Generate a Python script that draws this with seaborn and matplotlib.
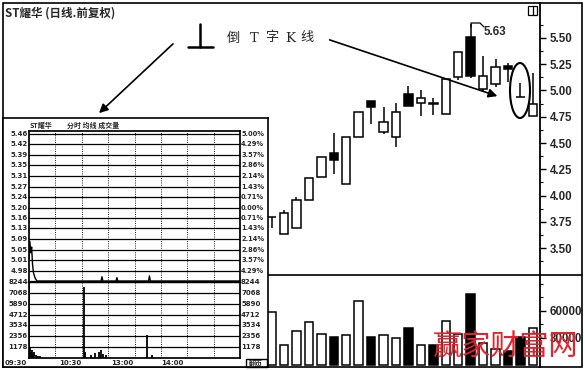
import matplotlib
matplotlib.use("Agg")
import matplotlib.pyplot as plt
import seaborn as sns
import pandas as pd
from matplotlib.patches import Rectangle, Ellipse, FancyArrowPatch
from matplotlib.lines import Line2D

sns.set_theme(style="white")
plt.rcParams['font.family'] = ['DejaVu Sans', 'Noto Sans CJK SC']

# ---------------- daily K-line data ----------------
day_index = list(range(22))
opens  = [3.80, 3.633, 3.69, 3.957, 4.176, 4.405, 4.11, 4.557, 4.90, 4.605, 4.557,
          4.967, 4.88, 4.88, 4.776, 5.128, 5.51, 5.014, 5.062, 5.233, 4.938, 4.757]
closes = [3.80, 3.833, 3.957, 4.167, 4.367, 4.338, 4.557, 4.795, 4.843, 4.70, 4.795,
          4.852, 4.93, 4.87, 5.11, 5.367, 5.138, 5.138, 5.224, 5.205, 4.938, 4.867]
highs  = [3.80, 3.862, 3.986, 4.167, 4.367, 4.595, 4.557, 4.795, 4.90, 4.843, 4.88,
          5.043, 5.005, 4.93, 5.11, 5.367, 5.63, 5.33, 5.30, 5.262, 5.071, 5.167]
lows   = [3.69, 3.633, 3.69, 3.957, 4.176, 4.205, 4.11, 4.557, 4.68, 4.586, 4.462,
          4.852, 4.757, 4.767, 4.776, 5.10, 5.12, 4.986, 5.033, 5.08, 4.938, 4.757]
direction = ['up', 'up', 'up', 'up', 'up', 'down', 'up', 'up', 'down', 'up', 'up',
             'down', 'up', 'down', 'up', 'up', 'down', 'up', 'up', 'down', 'down', 'up']
volumes = [58800, 22200, 37700, 47700, 34400, 31100, 33300, 71000, 31100, 33300, 30000,
           41100, 22200, 22200, 48800, 34400, 78800, 24400, 17800, 15500, 31100, 41100]

price_ticks = [3.50, 3.75, 4.00, 4.25, 4.50, 4.75, 5.00, 5.25, 5.50]
price_minor = [3.375, 3.625, 3.875, 4.125, 4.375, 4.625, 4.875, 5.125, 5.375, 5.625]
volume_ticks = [30000, 60000]
volume_minor = [15000, 45000, 75000, 90000]
peak_label = "5.63"

# ---------------- intraday (inset) data ----------------
intraday_minutes = [0, 1, 2, 3, 4, 5, 7, 9, 82, 83, 84, 99, 100, 101, 136, 137, 138, 240]
intraday_prices  = [5.02, 5.08, 5.04, 5.06, 5.00, 4.97, 4.95, 4.94, 4.94, 4.955, 4.94,
                    4.94, 4.952, 4.94, 4.94, 4.958, 4.94, 4.94]
intraday_vol_minutes = [0, 1, 2, 3, 5, 6, 8, 10, 12, 63, 64, 70, 75, 80, 82, 84, 88, 134, 140]
intraday_volumes     = [8244, 1200, 600, 900, 400, 700, 300, 250, 200, 7700, 600, 300, 500,
                        700, 900, 400, 300, 2500, 300]
intraday_levels = [5.46, 5.423, 5.386, 5.349, 5.311, 5.274, 5.237, 5.200, 5.163, 5.126,
                   5.089, 5.051, 5.014, 4.977]
intraday_left_labels = ["5.46", "5.42", "5.39", "5.35", "5.31", "5.27", "5.24", "5.20",
                        "5.16", "5.13", "5.09", "5.05", "5.01", "4.98"]
intraday_right_labels = ["5.00%", "4.29%", "3.57%", "2.86%", "2.14%", "1.43%", "0.71%",
                         "0.00%", "0.71%", "1.43%", "2.14%", "2.86%", "3.57%", "4.29%"]
intraday_vol_levels = [1178, 2356, 3534, 4712, 5890, 7068, 8244]
intraday_vol_labels = ["1178", "2356", "3534", "4712", "5890", "7068", "8244"]
time_labels = ["09:30", "10:30", "13:00", "14:00"]

# ---------------- figure ----------------
W, H = 585, 370
fig = plt.figure(figsize=(W / 100, H / 100), dpi=100)
fig.patch.set_facecolor('white')


def pax(x0, y0, x1, y1, z=0):
    return fig.add_axes([x0 / W, 1 - y1 / H, (x1 - x0) / W, (y1 - y0) / H], zorder=z)


def F(x, y):
    return (x / W, 1 - y / H)


CJK = ['Noto Sans CJK SC', 'DejaVu Sans']
NUM = ['Liberation Sans', 'DejaVu Sans']

df = pd.DataFrame(dict(day=day_index, open=opens, close=closes, high=highs, low=lows,
                       dir=direction, volume=volumes))
X0, X1 = -21.57, 21.57

ax = pax(3, 3, 540, 275)
axv = pax(3, 275, 540, 367)

body_lo = df[['open', 'close']].min(axis=1)
body_hi = df[['open', 'close']].max(axis=1)
fc = df['dir'].map({'up': 'white', 'down': 'black'})
ax.vlines(df['day'], df['low'], df['high'], color='black', lw=1.1, zorder=2)
ax.bar(df['day'], body_hi - body_lo, bottom=body_lo, width=0.68, color=fc,
       edgecolor='black', linewidth=1.1, zorder=3)
ax.set_ylim(3.2429, 5.8333)
ax.set_yticks(price_ticks)
ax.set_yticklabels([f"{v:.2f}" for v in price_ticks])
ax.set_yticks(price_minor, minor=True)

sns.barplot(data=df, x='day', y='volume', hue='dir', palette={'up': 'white', 'down': 'black'},
            edgecolor='black', linewidth=1.1, width=0.68, dodge=False, legend=False,
            errorbar=None, native_scale=True, ax=axv)
axv.set_ylim(-2220, 99900)
axv.set_yticks(volume_ticks)
axv.set_yticklabels([str(v) for v in volume_ticks])
axv.set_yticks(volume_minor, minor=True)

for a in (ax, axv):
    a.set_xlim(X0, X1)
    a.set_xticks([])
    a.set_xlabel('')
    a.set_ylabel('')
    for s in ['left', 'top', 'bottom']:
        a.spines[s].set_visible(False)
    a.spines['right'].set_color('black')
    a.spines['right'].set_linewidth(1.3)
    a.yaxis.tick_right()
    a.tick_params(axis='y', which='major', direction='out', right=True, left=False,
                  length=4, width=1, color='black', pad=3, labelsize=8.3)
    a.tick_params(axis='y', which='minor', direction='out', right=True, left=False,
                  length=2, width=0.8, color='black')
    a.patch.set_alpha(0)
    for lab in a.get_yticklabels():
        lab.set_fontweight('bold')
        lab.set_family(NUM)

# outer frame and divider
fig.add_artist(Rectangle(F(3, 367), 579 / W, 364 / H, transform=fig.transFigure,
                         fill=False, ec='black', lw=1.2, zorder=3))
fig.add_artist(Line2D([3 / W, 582 / W], [1 - 275 / H] * 2, transform=fig.transFigure,
                      color='black', lw=1.2, zorder=3))

# title
fig.text(*F(5, 13), "ST耀华 (日线.前复权)", family=CJK, fontweight='bold', fontsize=8.3,
         va='center', ha='left', zorder=8)

# icon top right
fig.add_artist(Rectangle(F(528, 15), 9 / W, 9 / H, transform=fig.transFigure,
                         fill=False, ec='black', lw=0.9, zorder=8))
fig.add_artist(Line2D([532.5 / W] * 2, [1 - 6 / H, 1 - 15 / H], transform=fig.transFigure,
                      color='black', lw=0.9, zorder=8))

# inverted T symbol + label
fig.add_artist(Line2D([200 / W] * 2, [1 - 24 / H, 1 - 47 / H], transform=fig.transFigure,
                      color='black', lw=1.8, zorder=8))
fig.add_artist(Line2D([188 / W, 213 / W], [1 - 47 / H] * 2, transform=fig.transFigure,
                      color='black', lw=1.8, zorder=8))
for ch, xc in zip(["倒", "T", "字", "K", "线"], [233, 254, 272, 290, 307]):
    fam = ['DejaVu Serif'] if ch in "TK" else CJK
    fig.text(*F(xc, 38), ch, family=fam, fontsize=9.5, ha='center', va='center', zorder=8)

# arrows
for (xa, ya), (xb, yb) in [((175, 42), (97, 115)), ((327, 39), (500, 97))]:
    fig.add_artist(FancyArrowPatch(F(xa, ya), F(xb, yb), transform=fig.transFigure,
                                   arrowstyle='-|>', mutation_scale=13, lw=1.2,
                                   color='black', zorder=8))

# peak marker
fig.add_artist(Line2D([471 / W, 471 / W, 480 / W, 484 / W],
                      [1 - 27 / H, 1 - 23 / H, 1 - 23 / H, 1 - 27 / H],
                      transform=fig.transFigure, color='black', lw=0.9, zorder=8))
fig.text(*F(484, 32), peak_label, family=NUM, fontweight='bold', fontsize=8.3,
         ha='left', va='center', zorder=8)

# ellipse around inverted T candle
fig.add_artist(Ellipse(F(520, 90.5), 20 / W, 55 / H, transform=fig.transFigure,
                       fill=False, ec='black', lw=1.5, zorder=8))

# ---------------- inset ----------------
frame = pax(3, 118, 268, 367, z=5)
frame.set_xticks([]); frame.set_yticks([])
frame.set_facecolor('white')
for s in frame.spines.values():
    s.set_color('black'); s.set_linewidth(1.2)

fig.text(*F(30, 125.5), "ST耀华", family=CJK, fontweight='bold', fontsize=5, ha='left',
         va='center', zorder=9)
fig.text(*F(67, 125.5), "分时 均线 成交量", family=CJK, fontweight='bold', fontsize=5,
         ha='left', va='center', zorder=9)

axp = pax(29, 131, 240, 282, z=6)
axp.set_xlim(0, 240)
axp.set_ylim(4.9365, 5.4706)
for lvl in intraday_levels:
    axp.axhline(lvl, color='black', lw=0.9, zorder=1)
for m in [30, 60, 90, 120, 150, 180, 210]:
    axp.axvline(m, color='black', lw=0.6, ls=(0, (1.2, 1.5)), zorder=1)
sns.lineplot(x=intraday_minutes, y=intraday_prices, ax=axp, color='black', lw=1.0,
             zorder=4, estimator=None, sort=False)
axp.set_xticks([]); axp.set_yticks([])
axp.set_xlabel(''); axp.set_ylabel('')
for lvl, ll, rl in zip(intraday_levels, intraday_left_labels, intraday_right_labels):
    axp.text(-0.005, lvl, ll, transform=axp.get_yaxis_transform(), ha='right', va='center',
             fontsize=5, fontweight='bold', family=['DejaVu Sans'])
    axp.text(1.005, lvl, rl, transform=axp.get_yaxis_transform(), ha='left', va='center',
             fontsize=4.8, fontweight='bold', family=['DejaVu Sans'])

axq = pax(29, 282, 240, 358, z=6)
axq.set_xlim(0, 240)
axq.set_ylim(0, 8244)
for lvl in intraday_vol_levels:
    axq.axhline(lvl, color='black', lw=0.9, zorder=1)
for m in [30, 60, 90, 120, 150, 180, 210]:
    axq.axvline(m, color='black', lw=0.6, ls=(0, (1.2, 1.5)), zorder=1)
axq.vlines(intraday_vol_minutes, 0, intraday_volumes, color='black', lw=1.3, zorder=3)
axq.set_xticks([]); axq.set_yticks([])
for lvl, lab in zip(intraday_vol_levels, intraday_vol_labels):
    axq.text(-0.005, lvl, lab, transform=axq.get_yaxis_transform(), ha='right', va='center',
             fontsize=5, fontweight='bold', family=['DejaVu Sans'])
    axq.text(1.005, lvl, lab, transform=axq.get_yaxis_transform(), ha='left', va='center',
             fontsize=5, fontweight='bold', family=['DejaVu Sans'])
axq.spines['top'].set_linewidth(1.6)
for a in (axp, axq):
    for s in a.spines.values():
        s.set_color('black')
    a.patch.set_alpha(0)

for lab, xc in zip(time_labels, [16, 70, 122, 172]):
    fig.text(*F(xc, 363), lab, fontsize=5, fontweight='bold', ha='center', va='center',
             family=['DejaVu Sans'], zorder=9)
fig.add_artist(Rectangle(F(246, 367), 21 / W, 8 / H, transform=fig.transFigure,
                         fill=False, ec='black', lw=1.0, zorder=9))
fig.text(*F(256, 363), "翻页", family=CJK, fontsize=5, fontweight='bold', ha='center',
         va='center', zorder=9)

# watermark
fig.text(*F(506, 347), "赢家财富网", family=CJK, fontsize=21, color='#e2232c',
         ha='center', va='center', zorder=10, fontweight='light')

fig.savefig("out.png", dpi=100, facecolor='white')
